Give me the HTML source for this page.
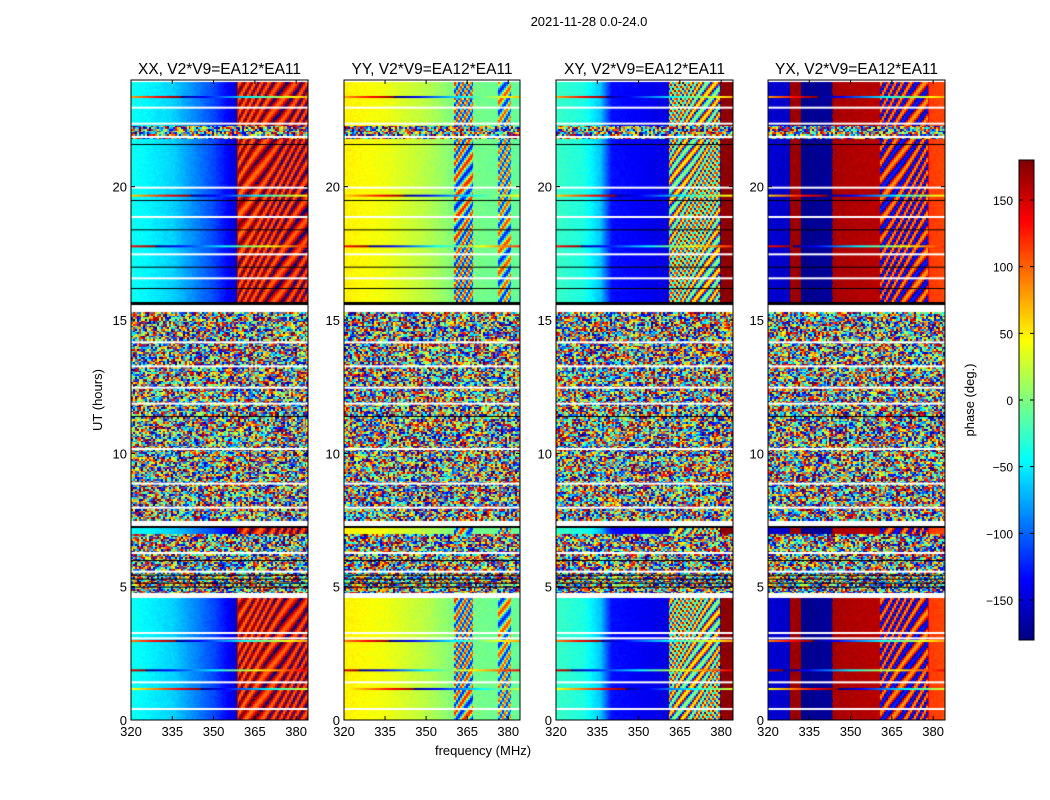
<!DOCTYPE html>
<html><head><meta charset="utf-8"><style>
body{margin:0;background:#fff;width:1050px;height:800px;position:relative;overflow:hidden;font-family:"Liberation Sans",sans-serif}
canvas{position:absolute}
svg{position:absolute;left:0;top:0}
</style></head><body>
<canvas id="p0" width="177" height="640" style="left:131px;top:80px"></canvas>
<canvas id="p1" width="176" height="640" style="left:344px;top:80px"></canvas>
<canvas id="p2" width="177" height="640" style="left:556px;top:80px"></canvas>
<canvas id="p3" width="177" height="640" style="left:768px;top:80px"></canvas>
<canvas id="cb" width="15" height="480" style="left:1019px;top:160px"></canvas>
<svg id="ov" width="1050" height="800"></svg>
<script>
// ---- data ----
const panelTitles = ["XX, V2*V9=EA12*EA11","YY, V2*V9=EA12*EA11","XY, V2*V9=EA12*EA11","YX, V2*V9=EA12*EA11"];
const xTicks = [320,335,350,365,380];
const yTicks = [0,5,10,15,20];
const cbTicks = [150,100,50,0,-50,-100,-150];
const freqXX = [320,335,350,358,358.7,370,384];
const phaseXX = [-40,-60,-110,-150,-225,-220,-215];
const freqYY = [320,335,350,360,384];
const phaseYY = [50,40,20,0,-10];
const freqXY = [320,330,336,340,360,360.7,379,379.7,384];
const phaseXY = [-25,-35,-65,-130,-145,-150,-150,-185,-185];
const freqYX = [320,327.5,328,331.5,332,343,343.5,360,378,378.5,384];
const phaseYX = [-150,-155,-190,-190,-175,-170,-195,-200,-205,-245,-250];
const panelFreqs = [freqXX,freqYY,freqXY,freqYX];
const panelPhases = [phaseXX,phaseYY,phaseXY,phaseYX];
const ripplesXX = [[358.7,384,45]];
const ripplesYY = [[360,367,130],[376,381,120]];
const ripplesXY = [[360.7,379.5,170]];
const ripplesYX = [[360.4,378,80]];
const panelRipples = [ripplesXX,ripplesYY,ripplesXY,ripplesYX];
const timeBlocks = [
 [0,4.6,"coh"],[4.6,4.8,"white"],[4.8,7.0,"noise"],[7.0,7.2,"coh"],[7.2,7.3,"black"],[7.3,7.5,"white"],
 [7.5,15.3,"noise"],[15.3,15.6,"white"],[15.6,15.7,"black"],[15.7,21.8,"coh"],[21.8,22.3,"noise"],[22.3,24,"coh"]
];
const whiteLines = [0.45,1.45,3.1,3.3,5.6,6.3,8.0,8.9,10.2,11.9,12.5,13.3,14.2,16.6,17.5,18.9,20.0,21.9,22.4,23.0,24.0];
const blackLines = [5.0,5.15,5.3,5.45,6.0,11.4,16.2,17.0,18.4,19.5,21.6];
const streakLines = [[1.9,150],[1.2,40],[3.0,90],[17.8,130],[19.7,60],[23.4,80]];

function jet(v){
  const r=Math.min(1,Math.max(0,1.5-Math.abs(4*v-3)));
  const g=Math.min(1,Math.max(0,1.5-Math.abs(4*v-2)));
  const b=Math.min(1,Math.max(0,1.5-Math.abs(4*v-1)));
  return [r*255|0,g*255|0,b*255|0];
}
function wrap(p){return ((p+180)%360+360)%360-180;}
function phCol(p){return jet((wrap(p)+180)/360);}
function interp(fa,arr,f){
  for(let i=0;i<fa.length-1;i++){
    if(f<=fa[i+1]){const t=(f-fa[i])/(fa[i+1]-fa[i]);return arr[i]+t*(arr[i+1]-arr[i]);}
  }
  return arr[arr.length-1];
}
function hash(a,b,s){let h=(a*374761393+b*668265263+s*982451653)|0;h=(h^(h>>>13))*1274126177|0;return ((h^(h>>>16))>>>0)/4294967296;}
const F0=320,F1=384.3;
function xs(f,w){return (f-F0)/(F1-F0)*w;}
function ys(h){return 640-h/24*640;}

for(let p=0;p<4;p++){
  const cv=document.getElementById('p'+p),ctx=cv.getContext('2d'),W=cv.width;
  const img=ctx.createImageData(W,640);
  for(let y=0;y<640;y++){
    const h=(640-y)/640*24, r=Math.floor(h*16);
    let kind="noise";
    for(const b of timeBlocks){if(h>=b[0]&&h<b[1]){kind=b[2];break;}}
    for(let x=0;x<W;x++){
      const f=F0+x/W*(F1-F0), c=Math.floor((f-F0)*1.4);
      let col;
      if(kind==="white")col=[255,255,255];
      else if(kind==="black")col=[0,0,0];
      else if(kind==="noise")col=phCol(hash(r,c,p)*360-180);
      else{
        let ph=interp(panelFreqs[p],panelPhases[p],f)+(hash(r,c,p+9)-0.5)*8;
        for(const rb of panelRipples[p]){
          if(f>=rb[0]&&f<rb[1]){
            const cx=Math.floor(x/2), ry=Math.floor(y/2);
            ph+=rb[2]*Math.sin(cx*1.3+ry*0.8+Math.sin(ry*0.07+cx*0.2)*3+p);
          }
        }
        col=phCol(ph);
      }
      const i=(y*W+x)*4;img.data[i]=col[0];img.data[i+1]=col[1];img.data[i+2]=col[2];img.data[i+3]=255;
    }
  }
  ctx.putImageData(img,0,0);
  for(const s of streakLines){
    const y=ys(s[0]);
    for(let x=0;x<W;x++){const c=phCol(s[1]+x*2);ctx.fillStyle=`rgb(${c})`;ctx.fillRect(x,y,1,2);}
  }
  ctx.fillStyle="#fff";for(const h of whiteLines)ctx.fillRect(0,ys(h),W,2);
  ctx.fillStyle="#000";for(const h of blackLines)ctx.fillRect(0,ys(h),W,1);
}
(function(){const cv=document.getElementById('cb'),ctx=cv.getContext('2d');
 for(let y=0;y<480;y++){const c=jet(1-y/480);ctx.fillStyle=`rgb(${c})`;ctx.fillRect(0,y,15,1);}})();

const NS="http://www.w3.org/2000/svg",ov=document.getElementById('ov');
function mk(t,a,txt){const e=document.createElementNS(NS,t);for(const k in a)e.setAttribute(k,a[k]);if(txt!==undefined)e.textContent=txt;ov.appendChild(e);return e;}
const lefts=[131,344,556,768],widths=[177,176,177,177];
let e=mk('text',{x:589,y:26,'font-size':13,'text-anchor':'middle'},"2021-11-28 0.0-24.0");


for(let p=0;p<4;p++){
  const L=lefts[p],W=widths[p];
  e=mk('rect',{x:L,y:80,width:W,height:640,fill:'none',stroke:'#000','stroke-width':1});
  
  
  e=mk('text',{x:L+W/2,y:74,'font-size':15.5,'text-anchor':'middle'},panelTitles[p]);
  
  
  for(const t of xTicks){
    const x=L+xs(t,W);
    mk('line',{x1:x,y1:720,x2:x,y2:716,stroke:'#000'});mk('line',{x1:x,y1:80,x2:x,y2:84,stroke:'#000'});
    e=mk('text',{x:x,y:736,'font-size':13,'text-anchor':'middle'},t);
    
    
  }
  for(const t of yTicks){
    const y=80+ys(t);
    mk('line',{x1:L,y1:y,x2:L+4,y2:y,stroke:'#000'});mk('line',{x1:L+W,y1:y,x2:L+W-4,y2:y,stroke:'#000'});
    e=mk('text',{x:L-4,y:y+5,'font-size':13,'text-anchor':'end'},t);
    
    
  }
}
e=mk('text',{x:102,y:400,'font-size':13,'text-anchor':'middle',transform:'rotate(-90 102 400)'},"UT (hours)");


e=mk('text',{x:483,y:755,'font-size':13,'text-anchor':'middle'},"frequency (MHz)");


e=mk('rect',{x:1019,y:160,width:15,height:480,fill:'none',stroke:'#000'});


for(const t of cbTicks){
  const y=400-t/180*240;
  mk('line',{x1:1019,y1:y,x2:1023,y2:y,stroke:'#000'});mk('line',{x1:1034,y1:y,x2:1030,y2:y,stroke:'#000'});
  e=mk('text',{x:1013,y:y+5,'font-size':12,'text-anchor':'end'},t.toString().replace('-','\u2212'));
  
  
}
e=mk('text',{x:974,y:400,'font-size':13,'text-anchor':'middle',transform:'rotate(-90 974 400)'},"phase (deg.)");


</script>
</body></html>
